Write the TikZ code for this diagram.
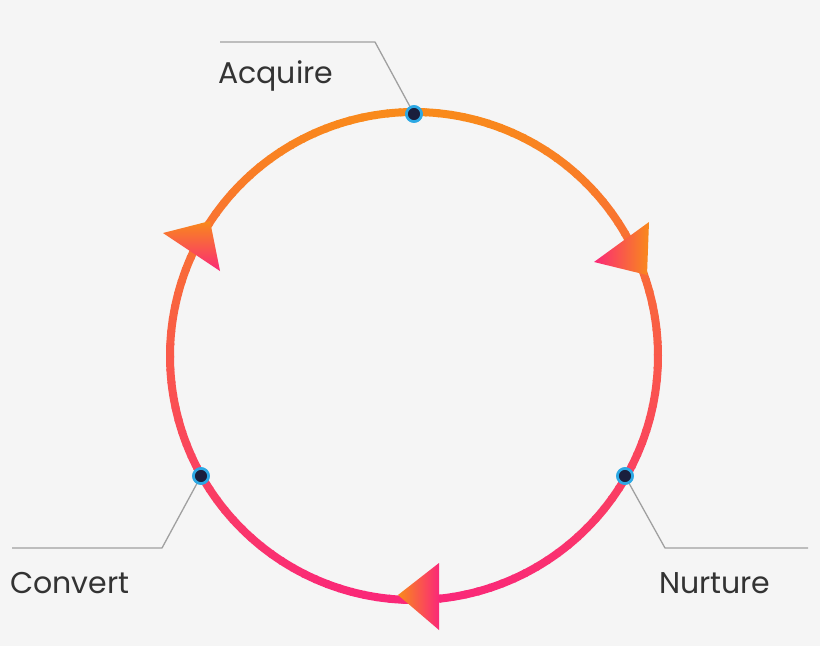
\documentclass[tikz,border=0pt]{standalone}
\usepackage{fontspec}
\setmainfont{Poppins}
\definecolor{org}{HTML}{F98A1B}
\definecolor{pnk}{HTML}{FA2878}
\definecolor{bg}{HTML}{F5F5F5}
\definecolor{dotc}{HTML}{1A1F3D}
\definecolor{ring}{HTML}{2CA8E4}
\definecolor{lead}{HTML}{A0A0A0}
\definecolor{txt}{HTML}{333333}
\begin{document}
\begin{tikzpicture}[x=1pt,y=-1pt,
  dot/.style={circle,fill=dotc,draw=ring,line width=2.6pt,minimum size=15pt,inner sep=0pt},
  leader/.style={draw=lead,line width=1.3pt},
  lbl/.style={text=txt,font=\fontsize{30}{30}\selectfont,inner sep=0pt}]
\fill[bg] (0,0) rectangle (820,646);
\useasboundingbox (0,0) rectangle (820,646);
% gradient ring
\foreach \a in {0,3,...,357}{
  \pgfmathsetmacro\yy{356-244*sin(\a+1.5)}
  \pgfmathsetmacro\p{max(0,min(100,(356-244*sin(\a+1.5)-113)/485*100))}
  \draw[line width=8pt,color=pnk!\p!org] ({414+244*cos(\a)},{356-244*sin(\a)}) arc[start angle=-\a,end angle={-\a-3.4},radius=244];
}
% arrowheads
\shade[top color=org,bottom color=pnk] (163,233) -- (210,221) -- (220,271) -- cycle;
\shade[left color=pnk,right color=org] (649,222) -- (594,262) -- (647,275) -- cycle;
\shade[left color=org,right color=pnk] (398,595) -- (439,563) -- (439,630) -- cycle;
% dots
\node[dot] (acq) at (414,114) {};
\node[dot] (nur) at (625,476) {};
\node[dot] (con) at (201,476) {};
\coordinate (a1) at (375,42); \coordinate (a2) at (220,42);
\coordinate (n1) at (665,548); \coordinate (n2) at (808,548);
\coordinate (c1) at (162,548); \coordinate (c2) at (12,548);
\draw[leader] (acq.center) -- (a1) -- (a2);
\draw[leader] (nur.center) -- (n1) -- (n2);
\draw[leader] (con.center) -- (c1) -- (c2);
\node[dot] at (acq) {}; \node[dot] at (nur) {}; \node[dot] at (con) {};
\node[lbl,anchor=west] (tacq) at (218,76) {Acquire};
\node[lbl,anchor=west] (tnur) at (659,583) {Nurture};
\node[lbl,anchor=west] (tcon) at (10,583) {Convert};
\end{tikzpicture}
\end{document}
